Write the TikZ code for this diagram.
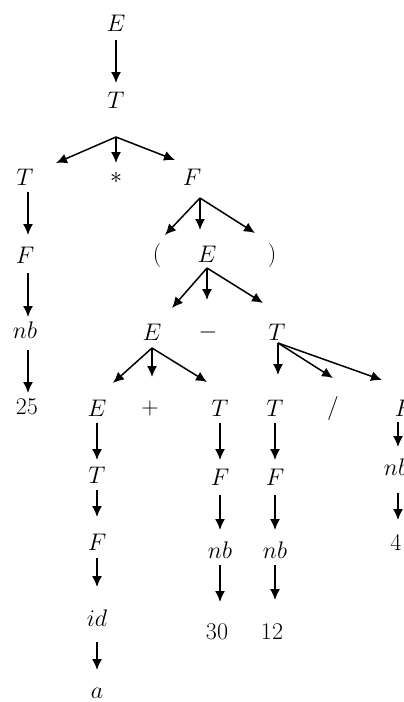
\documentclass[tikz,border=0pt]{standalone}
\usepackage{fix-cm}
\usetikzlibrary{arrows.meta}
\tikzset{
  sym/.style={inner sep=0pt, outer sep=0pt, font=\fontsize{24}{28}\selectfont},
  arr/.style={line width=1.5pt, -{Latex[length=11pt,width=10pt]}}
}
\begin{document}
\begin{tikzpicture}[x=1pt,y=-1pt]
\path[use as bounding box, clip] (0,0) rectangle (404,702);
\fill[white] (0,0) rectangle (404,702);
% nodes
\node[sym] (E0) at (116,23) {$E$};
\node[sym] (T0) at (116,100) {$T$};
\node[sym] (T1) at (25,177) {$T$};
\node[sym] (star) at (116,178) {$*$};
\node[sym] (F1) at (192,177) {$F$};
\node[sym] (F2) at (25,255) {$F$};
\node[sym] (nb1) at (25,330) {$nb$};
\node[sym] (n25) at (27,407) {25};
\node[sym] (lp) at (157,255) {$($};
\node[sym] (E1) at (207,254) {$E$};
\node[sym] (rp) at (272,255) {$)$};
\node[sym] (E2) at (152,332) {$E$};
\node[sym] (minus) at (208,332) {$-$};
\node[sym] (T2) at (277,332) {$T$};
\node[sym] (E3) at (97,408) {$E$};
\node[sym] (plus) at (150,408) {$+$};
\node[sym] (T3) at (220,408) {$T$};
\node[sym] (T4) at (275,408) {$T$};
\node[sym] (slash) at (333,408) {$/$};
\node[sym] (F3) at (404,408) {$F$};
\node[sym] (T5) at (97,475) {$T$};
\node[sym] (F4) at (97,542) {$F$};
\node[sym] (id) at (97,618) {$id$};
\node[sym] (a) at (97,693) {$a$};
\node[sym] (F5) at (220,477) {$F$};
\node[sym] (nb2) at (220,550) {$nb$};
\node[sym] (n30) at (217,632) {30};
\node[sym] (F6) at (275,477) {$F$};
\node[sym] (nb3) at (275,550) {$nb$};
\node[sym] (n12) at (272,632) {12};
\node[sym] (nb4) at (396,467) {$nb$};
\node[sym] (n4) at (396,542) {4};
% branch points
\coordinate (b0) at (116,137);
\coordinate (b1) at (200,198);
\coordinate (b2) at (207,268);
\coordinate (b3) at (152,348);
\coordinate (b4) at (278,343);
% connectors
\draw[arr] ([shift={(0,17)}]E0.center) -- ([shift={(0,-17)}]T0.center);
\draw[arr] (b0) -- ([shift={(31,-14)}]T1.center);
\draw[arr] (b0) -- ([shift={(0,-15)}]star.center);
\draw[arr] (b0) -- ([shift={(-17,-17)}]F1.center);
\draw[arr] ([shift={(3,15)}]T1.center) -- ([shift={(3,-20)}]F2.center);
\draw[arr] ([shift={(3,18)}]F2.center) -- ([shift={(3,-13)}]nb1.center);
\draw[arr] ([shift={(3,20)}]nb1.center) -- ([shift={(1,-14)}]n25.center);
\draw[arr] (b1) -- ([shift={(8,-20)}]lp.center);
\draw[arr] (b1) -- ([shift={(-7,-24)}]E1.center);
\draw[arr] (b1) -- ([shift={(-17,-22)}]rp.center);
\draw[arr] (b2) -- ([shift={(20,-24)}]E2.center);
\draw[arr] (b2) -- ([shift={(-1,-32)}]minus.center);
\draw[arr] (b2) -- ([shift={(-14,-29)}]T2.center);
\draw[arr] (b3) -- ([shift={(16,-25)}]E3.center);
\draw[arr] (b3) -- ([shift={(2,-31)}]plus.center);
\draw[arr] (b3) -- ([shift={(-13,-26)}]T3.center);
\draw[arr] (b4) -- ([shift={(3,-33)}]T4.center);
\draw[arr] (b4) -- ([shift={(0,-30)}]slash.center);
\draw[arr] (b4) -- ([shift={(-22,-28)}]F3.center);
\draw[arr] ([shift={(0,15)}]E3.center) -- ([shift={(0,-15)}]T5.center);
\draw[arr] ([shift={(0,15)}]T5.center) -- ([shift={(0,-25)}]F4.center);
\draw[arr] ([shift={(0,16)}]F4.center) -- ([shift={(0,-31)}]id.center);
\draw[arr] ([shift={(0,24)}]id.center) -- ([shift={(0,-23)}]a.center);
\draw[arr] ([shift={(0,15)}]T3.center) -- ([shift={(0,-17)}]F5.center);
\draw[arr] ([shift={(0,18)}]F5.center) -- ([shift={(0,-20)}]nb2.center);
\draw[arr] ([shift={(0,15)}]nb2.center) -- ([shift={(3,-30)}]n30.center);
\draw[arr] ([shift={(0,15)}]T4.center) -- ([shift={(0,-17)}]F6.center);
\draw[arr] ([shift={(0,18)}]F6.center) -- ([shift={(0,-20)}]nb3.center);
\draw[arr] ([shift={(0,15)}]nb3.center) -- ([shift={(3,-32)}]n12.center);
\draw[arr] ([shift={(-6,14)}]F3.center) -- ([shift={(2,-20)}]nb4.center);
\draw[arr] ([shift={(2,26)}]nb4.center) -- ([shift={(2,-22)}]n4.center);
\end{tikzpicture}
\end{document}
